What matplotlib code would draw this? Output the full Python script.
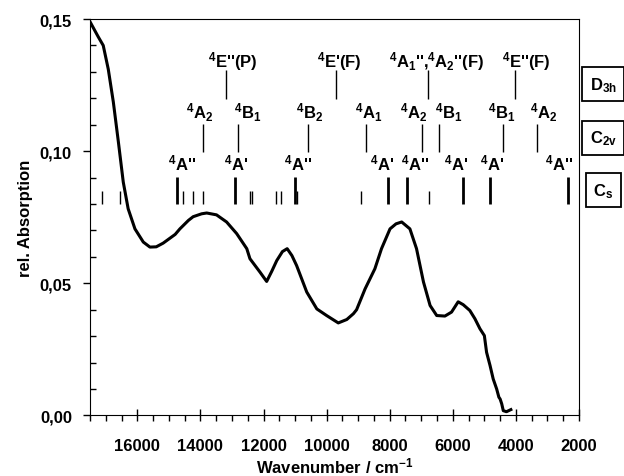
import matplotlib.pyplot as plt
from matplotlib.ticker import MultipleLocator, FuncFormatter

plt.rcParams['font.family'] = ['Liberation Sans', 'DejaVu Sans']
plt.rcParams['font.weight'] = 'bold'
plt.rcParams['mathtext.fontset'] = 'custom'
plt.rcParams['mathtext.rm'] = 'Liberation Sans:bold'
plt.rcParams['mathtext.it'] = 'Liberation Sans:bold'
plt.rcParams['mathtext.bf'] = 'Liberation Sans:bold'
plt.rcParams['mathtext.default'] = 'regular'

# absorption spectrum
wavenumber = [17500, 17240, 17080, 16920, 16760, 16600, 16445, 16290, 16075, 15810,
              15600, 15400, 15180, 14800, 14650, 14380, 14230, 13960, 13800, 13490,
              13170, 12850, 12530, 12430, 12110, 11900, 11740, 11580, 11400, 11250,
              11100, 10950, 10630, 10310, 10000, 9630, 9360, 9150, 9050, 8780,
              8470, 8260, 7990, 7800, 7620, 7360, 7150, 6930, 6720, 6510,
              6250, 6040, 5830, 5670, 5460, 5300, 5140, 5000, 4930, 4820,
              4720, 4610, 4540, 4500, 4450, 4400, 4300, 4160]
absorption = [0.149, 0.1433, 0.140, 0.131, 0.1186, 0.1035, 0.0883, 0.0782, 0.0706, 0.0656,
              0.0637, 0.0638, 0.0652, 0.0685, 0.0706, 0.0738, 0.0752, 0.0763, 0.0766, 0.0759,
              0.0732, 0.0688, 0.0631, 0.0593, 0.0542, 0.0507, 0.0545, 0.0586, 0.0620, 0.0631,
              0.0605, 0.0567, 0.0467, 0.0403, 0.0378, 0.0350, 0.0363, 0.0385, 0.0400, 0.0479,
              0.0555, 0.0631, 0.0706, 0.0725, 0.0732, 0.0706, 0.0631, 0.0505, 0.0416, 0.0378,
              0.0376, 0.0391, 0.0430, 0.0419, 0.0397, 0.0366, 0.0328, 0.0302, 0.0239, 0.0189,
              0.0138, 0.0100, 0.0069, 0.0062, 0.0044, 0.0018, 0.0014, 0.0022]

# Cs level sticks
cs_short = [17130, 16550, 14540, 14230, 13910, 12430, 12360, 11600, 11450, 10950, 8920, 6760]
cs_long = [14750, 12900, 11000, 8050, 7460, 5680, 4820, 2340]
cs_labels = ["$^4$A''", "$^4$A'", "$^4$A''", "$^4$A'", "$^4$A''", "$^4$A'", "$^4$A'", "$^4$A''"]
cs_label_pos = [14570, 12870, 10900, 8250, 7200, 5900, 4770, 2630]

# C2v levels
c2v_lines = [13930, 12820, 10580, 8750, 6990, 6430, 4420, 3340]
c2v_labels = ["$^4$A$_2$", "$^4$B$_1$", "$^4$B$_2$", "$^4$A$_1$", "$^4$A$_2$", "$^4$B$_1$",
              "$^4$B$_1$", "$^4$A$_2$"]
c2v_label_pos = [14010, 12510, 10530, 8660, 7250, 6140, 4440, 3130]

# D3h levels
d3h_lines = [13200, 9710, 6800, 4030]
d3h_labels = ["$^4$E''(P)", "$^4$E'(F)", "$^4$A$_1$'',$^4$A$_2$''(F)", "$^4$E''(F)"]
d3h_label_pos = [12960, 9610, 6500, 3660]

groups = ["D$_{3h}$", "C$_{2v}$", "C$_s$"]

fig = plt.figure(figsize=(6.24, 4.77), dpi=100)
ax = fig.add_axes([0.1442, 0.127, 0.7837, 0.831])

ax.plot(wavenumber, absorption, color='black', lw=2.2)

ax.vlines(cs_short, 0.0801, 0.0850, color='black', lw=1.0)
ax.vlines(cs_long, 0.0801, 0.0903, color='black', lw=2.0)
ax.vlines(c2v_lines, 0.0998, 0.1104, color='black', lw=1.0)
ax.vlines(d3h_lines, 0.1199, 0.1307, color='black', lw=1.0)

for x, t in zip(cs_label_pos, cs_labels):
    ax.text(x, 0.0932, t, ha='center', va='baseline', fontsize=12, fontweight='bold')
for x, t in zip(c2v_label_pos, c2v_labels):
    ax.text(x, 0.1125, t, ha='center', va='baseline', fontsize=12, fontweight='bold')
for x, t in zip(d3h_label_pos, d3h_labels):
    ax.text(x, 0.1322, t, ha='center', va='baseline', fontsize=12, fontweight='bold')

trans = ax.get_yaxis_transform()
for y, g in zip([0.1253, 0.1051, 0.0852], groups):
    ax.text(1.050, y, g, transform=trans, ha='center', va='center', fontsize=12,
            fontweight='bold', clip_on=False,
            bbox=dict(boxstyle='square,pad=0.45', facecolor='white', edgecolor='black', lw=1.3))

ax.set_xlim(17500, 2000)
ax.set_ylim(0, 0.15)
ax.xaxis.set_major_locator(MultipleLocator(2000))
ax.xaxis.set_minor_locator(MultipleLocator(500))
ax.yaxis.set_major_locator(MultipleLocator(0.05))
ax.yaxis.set_minor_locator(MultipleLocator(0.01))
ax.yaxis.set_major_formatter(FuncFormatter(lambda v, p: f"{v:.2f}".replace('.', ',')))
ax.xaxis.set_major_formatter(FuncFormatter(lambda v, p: f"{v:.0f}"))

ax.tick_params(axis='x', which='major', direction='inout', length=8, width=1, labelsize=12, pad=12)
ax.tick_params(axis='x', which='minor', direction='out', length=4, width=1)
ax.tick_params(axis='y', which='major', direction='out', length=5, width=1, labelsize=12, pad=8)
ax.tick_params(axis='y', which='minor', direction='in', length=4, width=1)
for lab in ax.get_xticklabels() + ax.get_yticklabels():
    lab.set_fontweight('bold')

ax.set_xlabel('Wavenumber / cm$^{-1}$', fontsize=12, fontweight='bold', labelpad=2)
ax.set_ylabel('rel. Absorption', fontsize=12, fontweight='bold', labelpad=5)

fig.savefig('out.png', dpi=100)
